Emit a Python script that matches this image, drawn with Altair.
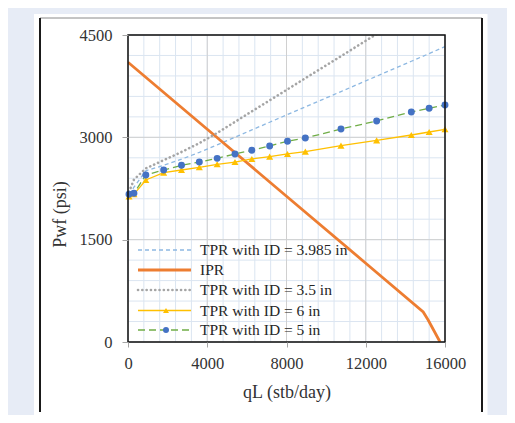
import altair as alt
import pandas as pd

# ---------------- data ----------------
q_tpr = [50, 300, 900, 1800, 2700, 3600, 4500, 5400, 6250, 7150, 8050, 8950, 10750, 12550, 14300, 15200, 16000]
p_3985 = [2160, 2270, 2510, 2590, 2680, 2780, 2890, 3002, 3109, 3221, 3334, 3446, 3671, 3896, 4115, 4228, 4330]
p_35 = [2200, 2380, 2545, 2665, 2785, 2915, 3065, 3227, 3380, 3542, 3704, 3866, 4190, 4514, 4829, 4991, 5135]
p_6in = [2135, 2165, 2375, 2482, 2521, 2561, 2605, 2638, 2683, 2717, 2756, 2790, 2878, 2956, 3034, 3078, 3118]
p_5in = [2165, 2180, 2448, 2521, 2590, 2638, 2692, 2756, 2810, 2873, 2942, 2990, 3122, 3240, 3371, 3426, 3474]

q_ipr = [0, 4000, 8000, 12000, 14900, 15150, 15750]
p_ipr = [4100, 3118, 2137, 1155, 440, 322, 0]

x_ticks = [0, 4000, 8000, 12000, 16000]
y_ticks = [0, 1500, 3000, 4500]
x_minor = list(range(0, 16001, 800))
y_minor = list(range(0, 4501, 300))

labels = ["TPR with ID = 3.985 in", "IPR", "TPR with ID = 3.5 in",
          "TPR with ID = 6 in", "TPR with ID = 5 in"]

# ---------------- styling ----------------
FONT = "Liberation Serif"
W, H = 317, 307
C_3985 = "#8db8e2"
C_IPR = "#ED7D31"
C_35 = "#A5A5A5"
C_6 = "#FFC000"
C_5L = "#70AD47"
C_5M = "#4472C4"

xs = alt.Scale(domain=[0, 16000], nice=False, zero=False)
ys = alt.Scale(domain=[0, 4500], nice=False, zero=False)

xaxis = alt.Axis(values=x_ticks, format="d", grid=False, domain=False, ticks=True, tickSize=5,
                 tickColor="#a6a6a6", labelFont=FONT, labelFontSize=16.5, labelColor="#333333",
                 labelPadding=16, labelBaseline="middle", labelFlush=False,
                 title="qL (stb/day)", titleFont=FONT, titleFontSize=18, titleFontWeight="normal",
                 titleColor="#333333", titleBaseline="middle", titleY=50, zindex=1)
yaxis = alt.Axis(values=y_ticks, format="d", grid=False, domain=False, ticks=True, tickSize=6,
                 tickColor="#a6a6a6", labelFont=FONT, labelFontSize=16.5, labelColor="#333333",
                 labelPadding=10, labelFlush=False,
                 title="Pwf (psi)", titleFont=FONT, titleFontSize=18, titleFontWeight="normal",
                 titleColor="#333333", titleAngle=270, titleBaseline="middle", titleAlign="center",
                 titleX=-68, titleY=179, zindex=1)


def X(field):
    return alt.X(field, type="quantitative", scale=xs, axis=xaxis)


def Y(field):
    return alt.Y(field, type="quantitative", scale=ys, axis=yaxis)


one = pd.DataFrame({"k": [0]})

# ---------------- decoration (page panel / frame) ----------------
panel = alt.Chart(one).mark_rect(fill="white").encode(
    x=alt.value(-94), x2=alt.value(359.5), y=alt.value(-21), y2=alt.value(380))
frame_top = alt.Chart(one).mark_rule(color="#8a8a8a", strokeWidth=1).encode(
    x=alt.value(-88), x2=alt.value(354), y=alt.value(-17))
frame_left = alt.Chart(one).mark_rule(color="#1a1a1a", strokeWidth=2).encode(
    x=alt.value(-88), y=alt.value(-17), y2=alt.value(377))
frame_right = alt.Chart(one).mark_rule(color="#1a1a1a", strokeWidth=2).encode(
    x=alt.value(354), y=alt.value(-17), y2=alt.value(377))

# ---------------- grid ----------------
gx_minor = alt.Chart(pd.DataFrame({"g": x_minor})).mark_rule(color="#dbe5f1", strokeWidth=1).encode(x=X("g"))
gy_minor = alt.Chart(pd.DataFrame({"g": y_minor})).mark_rule(color="#dbe5f1", strokeWidth=1).encode(y=Y("g"))
gx_major = alt.Chart(pd.DataFrame({"g": x_ticks})).mark_rule(color="#d0d0d0", strokeWidth=1).encode(x=X("g"))
gy_major = alt.Chart(pd.DataFrame({"g": y_ticks})).mark_rule(color="#d0d0d0", strokeWidth=1).encode(y=Y("g"))

# ---------------- series ----------------
df3985 = pd.DataFrame({"q": q_tpr, "p": p_3985})
df35 = pd.DataFrame({"q": q_tpr, "p": p_35})
df6 = pd.DataFrame({"q": q_tpr, "p": p_6in})
df5 = pd.DataFrame({"q": q_tpr, "p": p_5in})
dfipr = pd.DataFrame({"q": q_ipr, "p": p_ipr})

l3985 = alt.Chart(df3985).mark_line(color=C_3985, strokeWidth=1.3, strokeDash=[4, 3], clip=True).encode(
    x=X("q"), y=Y("p"), order="q:Q")
lipr = alt.Chart(dfipr).mark_line(color=C_IPR, strokeWidth=2.8, clip=True).encode(
    x=X("q"), y=Y("p"), order="q:Q")
l35 = alt.Chart(df35).mark_line(color=C_35, strokeWidth=2.6, strokeDash=[0.1, 4.2], strokeCap="round",
                                clip=True).encode(x=X("q"), y=Y("p"), order="q:Q")
l6 = alt.Chart(df6).mark_line(color=C_6, strokeWidth=1.3, clip=True).encode(
    x=X("q"), y=Y("p"), order="q:Q")
m6 = alt.Chart(df6).mark_point(shape="triangle-up", filled=True, color=C_6, size=50, opacity=1).encode(
    x=X("q"), y=Y("p"))
l5 = alt.Chart(df5).mark_line(color=C_5L, strokeWidth=1.3, strokeDash=[7, 4], clip=True).encode(
    x=X("q"), y=Y("p"), order="q:Q")
m5 = alt.Chart(df5).mark_point(shape="circle", filled=True, color=C_5M, size=48, opacity=1).encode(
    x=X("q"), y=Y("p"))

border = alt.Chart(one).mark_rect(fill=None, stroke="#111111", strokeWidth=1.5).encode(
    x=alt.value(0), x2=alt.value(W), y=alt.value(0), y2=alt.value(H))

# ---------------- legend (manual, inside plot) ----------------
leg_rows = [215, 235, 255, 275.5, 295]
leg_styles = [
    dict(color=C_3985, strokeWidth=1.3, strokeDash=[4, 3]),
    dict(color=C_IPR, strokeWidth=2.8),
    dict(color=C_35, strokeWidth=2.6, strokeDash=[0.1, 4.2], strokeCap="round"),
    dict(color=C_6, strokeWidth=1.3),
    dict(color=C_5L, strokeWidth=1.3, strokeDash=[7, 4]),
]
legend_layers = []
for lab, yy, st in zip(labels, leg_rows, leg_styles):
    ldf = pd.DataFrame({"label": [lab]})
    legend_layers.append(
        alt.Chart(ldf).mark_rule(**st).encode(x=alt.value(10), x2=alt.value(63), y=alt.value(yy)))
    legend_layers.append(
        alt.Chart(ldf).mark_text(font=FONT, fontSize=15.5, color="#262626", align="left",
                                 baseline="middle").encode(
            x=alt.value(72), y=alt.value(yy), text="label:N"))
legend_layers.append(
    alt.Chart(pd.DataFrame({"label": [labels[3]]})).mark_point(
        shape="triangle-up", filled=True, color=C_6, size=36, opacity=1).encode(
        x=alt.value(38), y=alt.value(leg_rows[3])))
legend_layers.append(
    alt.Chart(pd.DataFrame({"label": [labels[4]]})).mark_point(
        shape="circle", filled=True, color=C_5M, size=36, opacity=1).encode(
        x=alt.value(38), y=alt.value(leg_rows[4])))

chart = alt.layer(
    panel, frame_top, frame_left, frame_right,
    gx_minor, gy_minor, gx_major, gy_major,
    l3985, lipr, l35, l6, m6, l5, m5,
    border, *legend_layers
).properties(
    width=W, height=H,
    autosize=alt.AutoSizeParams(type="none"),
    padding={"left": 120, "top": 27, "right": 62, "bottom": 73},
    background="#e7ecf6",
).configure_view(stroke=None)

chart.save("out.html", embed_options={"renderer": "svg", "actions": False})
